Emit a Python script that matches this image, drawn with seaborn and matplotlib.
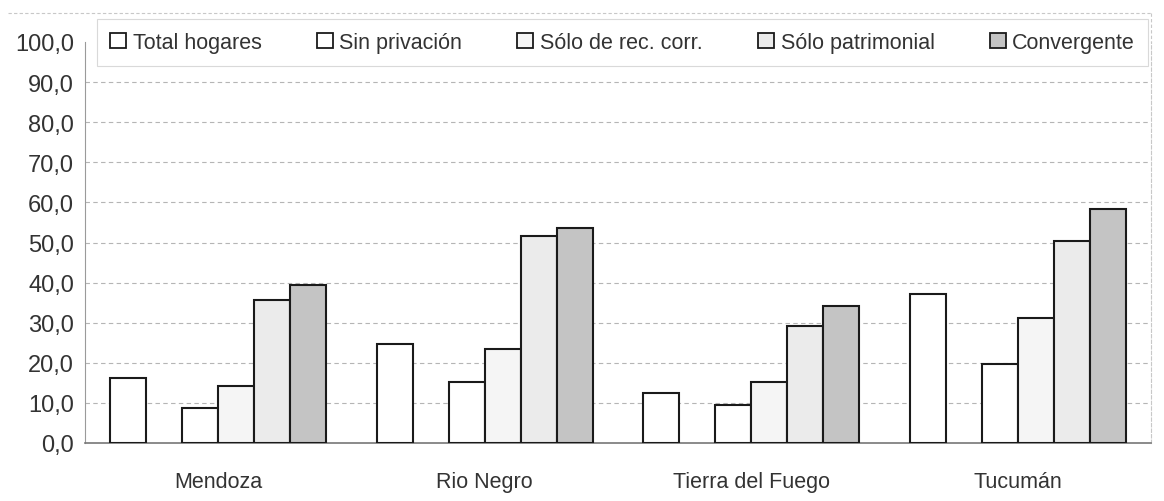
import pandas as pd
import matplotlib.pyplot as plt
import matplotlib.patches as mpatches
import matplotlib.lines as mlines
import seaborn as sns

sns.set_style('white')
plt.rcParams['font.family'] = ['Liberation Sans', 'DejaVu Sans']

# --- data ---
provincias = ['Mendoza', 'Rio Negro', 'Tierra del Fuego', 'Tucumán']
series = ['Total hogares', 'Sin privación', 'Sólo de rec. corr.', 'Sólo patrimonial', 'Convergente']
total_hogares = [16.2, 24.7, 12.5, 37.2]
sin_privacion = [8.8, 15.3, 9.5, 19.6]
solo_rec_corr = [14.2, 23.4, 15.2, 31.2]
solo_patrimonial = [35.6, 51.6, 29.2, 50.4]
convergente = [39.5, 53.6, 34.2, 58.3]

colores = ['#ffffff', '#ffffff', '#f5f5f5', '#ebebeb', '#c4c4c4']

valores = [total_hogares, sin_privacion, solo_rec_corr, solo_patrimonial, convergente]
rows = []
for s, vals in zip(series, valores):
    for p, v in zip(provincias, vals):
        rows.append({'provincia': p, 'serie': s, 'valor': v})
df = pd.DataFrame(rows)

# empty slot between "Total hogares" and the rest, as in the original
hue_order = [series[0], ' '] + series[1:]
palette = dict(zip(series, colores))
palette[' '] = '#ffffff'

fig = plt.figure(figsize=(11.64, 5.02), dpi=100)
ax = fig.add_axes([85 / 1164, 58 / 502, (1151 - 85) / 1164, (444 - 43) / 502])

sns.barplot(data=df, x='provincia', y='valor', hue='serie', hue_order=hue_order,
            order=provincias, palette=palette, width=0.81, gap=0,
            edgecolor='#1a1a1a', linewidth=1.5, legend=False, ax=ax, zorder=3)

ax.set_ylim(0, 100)
ax.set_yticks(range(0, 101, 10))
ax.set_yticklabels([f'{t},0' for t in range(0, 101, 10)], fontsize=17, color='#333333')
ax.set_xlabel('')
ax.set_ylabel('')
ax.tick_params(axis='x', length=0, pad=20, labelsize=15.5, labelcolor='#333333')
ax.tick_params(axis='y', length=4, width=0.8, color='#999999', direction='out', pad=4)

for y in range(10, 100, 10):
    ax.axhline(y, color='#b5b5b5', lw=0.8, ls=(0, (4, 3)), zorder=1)

ax.spines['top'].set_visible(False)
ax.spines['right'].set_color('#c8c8c8')
ax.spines['right'].set_linestyle((0, (3, 2)))
ax.spines['right'].set_linewidth(0.8)
ax.spines['left'].set_color('#9a9a9a')
ax.spines['bottom'].set_color('#777777')
ax.spines['bottom'].set_linewidth(1.2)
ax.set_xlim(-0.5, len(provincias) - 0.5)

# faint outer chart border at the top and right
fig.add_artist(mlines.Line2D([8 / 1164, 1151 / 1164], [1 - 14 / 502, 1 - 14 / 502],
                             color='#c8c8c8', lw=0.8, ls=(0, (3, 2))))
fig.add_artist(mlines.Line2D([1151 / 1164, 1151 / 1164], [1 - 14 / 502, 1 - 43 / 502],
                             color='#c8c8c8', lw=0.8, ls=(0, (3, 2))))

# legend box across the top
handles = [mpatches.Rectangle((0, 0), 1, 1, facecolor=c, edgecolor='#1a1a1a', linewidth=1.3)
           for c in colores]
leg = fig.legend(handles, series, loc='lower left',
                 bbox_to_anchor=(97 / 1164, (502 - 67) / 502, (1148 - 97) / 1164, 50 / 502),
                 ncol=5, mode='expand', frameon=True, fancybox=False, fontsize=15.5,
                 handlelength=0.75, handleheight=0.75, handletextpad=0.3,
                 borderaxespad=0, borderpad=0.6)
leg.get_frame().set_edgecolor('#d0d0d0')
leg.get_frame().set_linewidth(0.8)
for t in leg.get_texts():
    t.set_color('#333333')

fig.savefig('out.png', dpi=100)
